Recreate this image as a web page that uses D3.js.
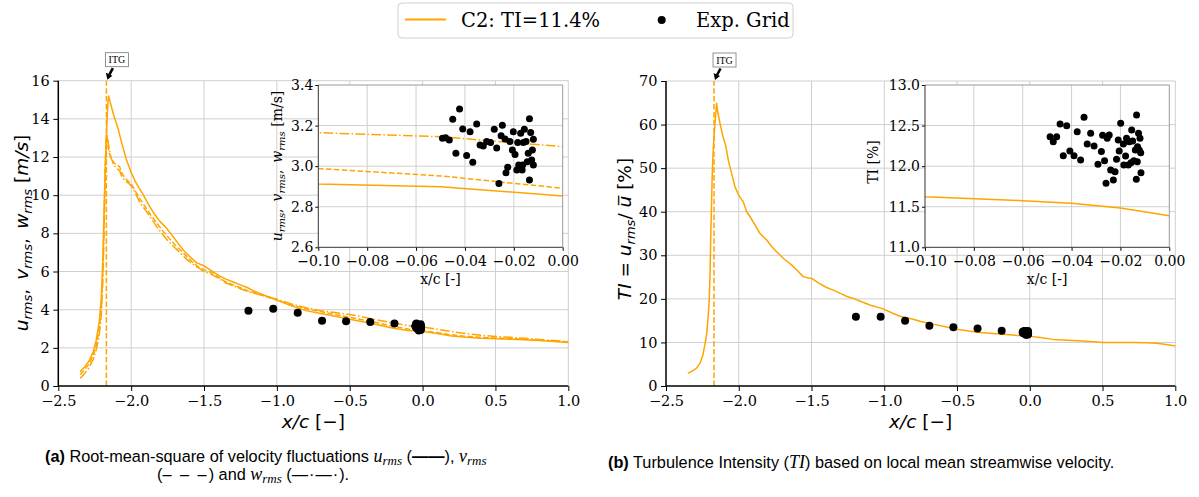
<!DOCTYPE html>
<html>
<head>
<meta charset="utf-8">
<script src="https://cdn.jsdelivr.net/npm/d3@7"></script>
<style>
  body { margin: 0; background: #fff; }
  svg { display: block; }
</style>
</head>
<body>
<svg id="chart" width="1199" height="497"></svg>
<script>
// ---- data ----
const xTicksMain = [-2.5, -2.0, -1.5, -1.0, -0.5, 0.0, 0.5, 1.0];
const yTicksRms = [0, 2, 4, 6, 8, 10, 12, 14, 16];
const yTicksTI = [0, 10, 20, 30, 40, 50, 60, 70];
const xTicksInset = [-0.10, -0.08, -0.06, -0.04, -0.02, 0.00];
const yTicksRmsInset = [2.6, 2.8, 3.0, 3.2, 3.4];
const yTicksTIInset = [11.0, 11.5, 12.0, 12.5, 13.0];
const itgX = -2.17; // grid location

// C2 simulation, u_rms (solid)
const uRms = [[-2.35,0.75],[-2.32,1.0],[-2.29,1.3],[-2.26,1.8],[-2.24,2.4],[-2.22,3.3],[-2.205,4.6],[-2.195,6.5],
  [-2.185,9.5],[-2.175,12.0],[-2.168,13.5],[-2.16,14.8],[-2.155,15.2],[-2.145,14.9],[-2.12,14.2],[-2.09,13.5],
  [-2.06,12.6],[-2.03,11.8],[-2.0,11.2],[-1.97,10.7],[-1.94,10.3],[-1.92,10.05],[-1.88,9.5],[-1.84,9.0],[-1.8,8.6],
  [-1.76,8.3],[-1.72,7.9],[-1.68,7.5],[-1.64,7.1],[-1.6,6.8],[-1.55,6.45],[-1.5,6.3],[-1.45,6.05],[-1.4,5.8],
  [-1.35,5.6],[-1.3,5.45],[-1.25,5.3],[-1.2,5.15],[-1.15,4.95],[-1.1,4.8],[-1.05,4.65],[-1.0,4.5],[-0.9,4.2],
  [-0.8,3.95],[-0.7,3.8],[-0.6,3.65],[-0.5,3.5],[-0.4,3.35],[-0.3,3.2],[-0.2,3.03],[-0.1,2.912],[-0.05,2.899],
  [0.0,2.853],[0.1,2.75],[0.2,2.62],[0.3,2.55],[0.4,2.5],[0.5,2.48],[0.6,2.45],[0.7,2.42],[0.8,2.38],[0.9,2.33],[1.0,2.28]];
// v_rms (dashed)
const vRms = [[-2.35,0.6],[-2.32,0.85],[-2.29,1.15],[-2.26,1.6],[-2.24,2.1],[-2.22,2.9],[-2.205,4.0],[-2.195,5.8],
  [-2.185,8.8],[-2.178,11.5],[-2.172,12.9],[-2.166,13.1],[-2.16,12.6],[-2.15,12.2],[-2.14,12.0],[-2.12,11.7],
  [-2.1,11.6],[-2.08,11.5],[-2.06,11.1],[-2.03,10.8],[-2.0,10.6],[-1.97,10.2],[-1.94,9.8],[-1.9,9.35],[-1.86,8.9],
  [-1.82,8.5],[-1.78,8.1],[-1.74,7.75],[-1.7,7.4],[-1.66,7.1],[-1.62,6.8],[-1.58,6.5],[-1.54,6.25],[-1.5,6.1],
  [-1.45,5.95],[-1.4,5.7],[-1.35,5.45],[-1.3,5.3],[-1.25,5.15],[-1.2,5.0],[-1.1,4.75],[-1.0,4.5],[-0.9,4.25],
  [-0.8,4.05],[-0.7,3.9],[-0.6,3.75],[-0.5,3.6],[-0.4,3.45],[-0.3,3.3],[-0.2,3.12],[-0.1,2.988],[-0.05,2.952],
  [0.0,2.891],[0.1,2.8],[0.2,2.68],[0.3,2.6],[0.4,2.55],[0.5,2.52],[0.6,2.48],[0.7,2.45],[0.8,2.4],[0.9,2.35],[1.0,2.3]];
// w_rms (dash-dot)
const wRms = [[-2.35,0.4],[-2.32,0.65],[-2.29,0.95],[-2.26,1.4],[-2.24,1.9],[-2.22,2.6],[-2.205,3.7],[-2.195,5.4],
  [-2.185,8.4],[-2.178,11.2],[-2.172,12.6],[-2.166,13.2],[-2.16,12.9],[-2.15,12.4],[-2.14,12.0],[-2.12,11.6],
  [-2.1,11.4],[-2.08,11.3],[-2.06,10.9],[-2.03,10.7],[-2.0,10.5],[-1.97,10.1],[-1.94,9.6],[-1.9,9.2],[-1.86,8.75],
  [-1.82,8.3],[-1.78,7.9],[-1.74,7.55],[-1.7,7.25],[-1.66,6.95],[-1.62,6.65],[-1.58,6.4],[-1.54,6.2],[-1.5,6.0],
  [-1.45,5.85],[-1.4,5.65],[-1.35,5.4],[-1.3,5.25],[-1.25,5.1],[-1.2,4.95],[-1.1,4.75],[-1.0,4.55],[-0.9,4.3],
  [-0.8,4.1],[-0.7,3.95],[-0.6,3.85],[-0.5,3.75],[-0.4,3.6],[-0.3,3.45],[-0.2,3.3],[-0.1,3.165],[-0.05,3.145],
  [0.0,3.096],[0.1,2.98],[0.2,2.85],[0.3,2.75],[0.4,2.66],[0.5,2.6],[0.6,2.55],[0.7,2.5],[0.8,2.44],[0.9,2.38],[1.0,2.32]];
// turbulence intensity (%)
const tiCurve = [[-2.35,2.9],[-2.32,3.4],[-2.29,4.1],[-2.265,5.3],[-2.245,7.3],[-2.23,10],[-2.22,12.1],[-2.21,16],
  [-2.203,19.7],[-2.197,26],[-2.193,33.5],[-2.187,42],[-2.182,48.8],[-2.176,54],[-2.17,57.2],[-2.163,60.3],
  [-2.157,63],[-2.152,64.9],[-2.145,63],[-2.129,60.3],[-2.11,57.5],[-2.088,54.9],[-2.07,51.5],[-2.049,48.8],
  [-2.026,45.7],[-2.0,43.8],[-1.985,43.0],[-1.969,42.3],[-1.946,40.0],[-1.923,38.9],[-1.889,37.0],[-1.854,35.0],
  [-1.808,33.5],[-1.774,32.0],[-1.74,30.8],[-1.69,29.2],[-1.637,27.8],[-1.595,26.4],[-1.557,25.1],[-1.52,24.8],
  [-1.499,24.7],[-1.45,23.6],[-1.396,22.6],[-1.35,22.0],[-1.305,21.3],[-1.26,20.6],[-1.214,20.1],[-1.16,19.4],
  [-1.099,18.6],[-1.008,17.7],[-0.95,16.8],[-0.893,16.0],[-0.801,15.3],[-0.75,14.8],[-0.664,14.2],[-0.58,13.6],
  [-0.503,13.0],[-0.42,12.6],[-0.343,12.3],[-0.25,12.05],[-0.16,11.8],[-0.1,11.624],[-0.06,11.575],[-0.04,11.542],
  [-0.02,11.485],[0.0,11.39],[0.06,11.2],[0.16,10.7],[0.26,10.5],[0.366,10.3],[0.503,10.0],[0.6,10.0],[0.709,10.0],
  [0.8,9.9],[0.87,9.8],[0.94,9.5],[1.0,9.2]];

// experimental grid: streamwise stations
const expStationX = [-1.195, -1.025, -0.857, -0.69, -0.525, -0.359, -0.193];
const expStationU = [3.95, 4.05, 3.84, 3.42, 3.39, 3.35, 3.27];
const expStationTI = [15.9, 15.9, 15.0, 13.85, 13.5, 13.2, 12.7];
// experimental grid: near-body cluster (inset)
const expNearX = [-0.0492,-0.0479,-0.0464,-0.045,-0.0422,-0.0437,-0.0409,-0.0393,-0.0379,-0.0368,-0.0352,-0.0338,
  -0.0325,-0.0311,-0.0295,-0.028,-0.027,-0.0261,-0.0252,-0.0247,-0.0236,-0.0232,-0.0225,-0.0216,-0.0206,-0.0202,
  -0.0195,-0.0188,-0.0184,-0.018,-0.0172,-0.0166,-0.0161,-0.0157,-0.015,-0.0145,-0.0141,-0.0136,-0.0136,-0.0131,
  -0.0127,-0.0124,-0.012,-0.012,-0.0164,-0.0177];
const expNearU = [3.137,3.14,3.129,3.231,3.282,3.063,3.183,3.053,3.169,3.019,3.208,3.104,3.099,3.121,3.116,3.182,
  3.09,2.914,3.15,3.201,3.134,2.967,2.995,3.121,3.08,3.17,3.058,2.981,3.116,3.006,3.162,2.981,3.116,3.182,3.121,
  3.022,3.063,3.234,2.932,3.166,3.03,3.08,3.132,3.006,3.006,3.003];
const expNearTIX = [-0.0488,-0.0475,-0.0461,-0.0447,-0.0434,-0.042,-0.0407,-0.039,-0.0377,-0.0363,-0.0349,-0.0336,
  -0.0322,-0.0308,-0.0292,-0.0278,-0.0273,-0.0265,-0.0254,-0.0246,-0.024,-0.0259,-0.0229,-0.0222,-0.0216,-0.0209,
  -0.0205,-0.0199,-0.0188,-0.0186,-0.0179,-0.0175,-0.0168,-0.0164,-0.0157,-0.0154,-0.015,-0.0145,-0.0139,-0.0135,
  -0.0134,-0.0131,-0.013,-0.0126,-0.0123,-0.012,-0.0117,-0.0116];
const expNearTI = [12.363,12.302,12.363,12.52,12.129,12.499,12.187,12.129,12.425,12.076,12.602,12.273,12.405,12.248,
  12.023,12.179,12.38,12.068,12.343,12.384,11.953,11.789,11.83,11.932,12.084,12.322,12.187,12.528,12.273,12.014,
  12.125,12.343,12.014,12.302,12.043,12.446,12.31,12.068,12.199,11.838,12.63,12.055,12.24,12.405,12.199,12.343,
  12.166,11.92];

// ---- drawing ----
const svg = d3.select("#chart");
svg.append("rect").attr("width", 1199).attr("height", 497).attr("fill", "#fff");

const ORANGE = "#ffa500";
const GRID = "#cfcfcf";
const SERIF = "'DejaVu Serif', serif";
const SANS = "'DejaVu Sans', sans-serif";
const dashed = "5.5,2.4";
const dashdot = "9.6,2.4,1.5,2.4";

function styleAxis(g, size) {
  g.attr("font-family", null).attr("font-size", null);
  g.selectAll("text").style("font-family", SERIF).style("font-size", size + "px").attr("fill", "#000");
  g.select(".domain").remove();
  g.selectAll(".tick line").attr("stroke", "#000").attr("stroke-width", 1);
}

function drawPanel(cfg) {
  const x = d3.scaleLinear().domain([-2.5, 1.0]).range(cfg.xr);
  const y = d3.scaleLinear().domain(cfg.yd).range(cfg.yr);
  const g = svg.append("g");

  // grid
  g.append("g").selectAll("line").data(xTicksMain.slice(1)).join("line")
    .attr("x1", d => x(d)).attr("x2", d => x(d))
    .attr("y1", cfg.yr[0]).attr("y2", cfg.yr[1])
    .attr("stroke", GRID).attr("stroke-width", 1);
  g.append("g").selectAll("line").data(cfg.yTicks.slice(1)).join("line")
    .attr("x1", cfg.xr[0]).attr("x2", cfg.xr[1])
    .attr("y1", d => y(d)).attr("y2", d => y(d))
    .attr("stroke", GRID).attr("stroke-width", 1);

  // simulation curves
  const line = d3.line().x(d => x(d[0])).y(d => y(d[1]));
  cfg.curves.forEach(c => {
    g.append("path").datum(c.data).attr("d", line)
      .attr("fill", "none").attr("stroke", ORANGE).attr("stroke-width", 1.5)
      .attr("stroke-dasharray", c.dash || null).attr("stroke-linejoin", "round");
  });

  // experiment
  const pts = cfg.stationX.map((v, i) => [v, cfg.stationY[i]])
    .concat(cfg.nearX.map((v, i) => [v, cfg.nearY[i]]));
  g.append("g").selectAll("circle").data(pts).join("circle")
    .attr("cx", d => x(d[0])).attr("cy", d => y(d[1])).attr("r", 4).attr("fill", "#000");

  // ITG marker line
  g.append("line")
    .attr("x1", x(itgX)).attr("x2", x(itgX))
    .attr("y1", cfg.yr[0]).attr("y2", cfg.yr[1])
    .attr("stroke", ORANGE).attr("stroke-width", 1.5).attr("stroke-dasharray", "5.5,2.4");

  // axes
  const xa = g.append("g").attr("transform", `translate(0,${cfg.yr[0]})`)
    .call(d3.axisBottom(x).tickValues(xTicksMain).tickFormat(d3.format(".1f")).tickSize(5).tickPadding(5));
  styleAxis(xa, 14.5);
  const ya = g.append("g").attr("transform", `translate(${cfg.xr[0]},0)`)
    .call(d3.axisLeft(y).tickValues(cfg.yTicks).tickFormat(d3.format("d")).tickSize(5).tickPadding(3.5));
  styleAxis(ya, 14.5);
  g.append("line").attr("x1", cfg.xr[0]).attr("x2", cfg.xr[1]).attr("y1", cfg.yr[0]).attr("y2", cfg.yr[0])
    .attr("stroke", "#000").attr("stroke-width", 1.5);
  g.append("line").attr("x1", cfg.xr[0]).attr("x2", cfg.xr[0]).attr("y1", cfg.yr[0]).attr("y2", cfg.yr[1])
    .attr("stroke", "#000").attr("stroke-width", 1.5);

  // x label
  const xl = g.append("text").attr("x", (cfg.xr[0] + cfg.xr[1]) / 2).attr("y", 428)
    .attr("text-anchor", "middle").attr("font-family", SANS).attr("font-size", 18.5);
  xl.append("tspan").attr("font-style", "italic").text("x/c");
  xl.append("tspan").text(" [\u2212]");

  // y label
  const yl = g.append("text")
    .attr("transform", `translate(${cfg.ylx},${cfg.yly}) rotate(-90)`)
    .attr("text-anchor", "middle").attr("font-family", SANS).attr("font-size", 18.5);
  cfg.ylabel(yl);

  // ITG annotation
  const tipX = x(itgX) + 1, tipY = cfg.yr[1] - 1;
  const ann = g.append("g");
  ann.append("rect").attr("x", tipX - 2).attr("y", tipY - 27).attr("width", 23).attr("height", 14)
    .attr("fill", "#fff").attr("stroke", "#777").attr("stroke-width", 0.8);
  ann.append("text").attr("x", tipX + 9.5).attr("y", tipY - 16.5).attr("text-anchor", "middle")
    .attr("font-family", "'Liberation Serif', serif").attr("font-size", 10).text("ITG");
  ann.append("line").attr("x1", tipX + 5.5).attr("y1", tipY - 11.5).attr("x2", tipX + 2).attr("y2", tipY - 5)
    .attr("stroke", "#000").attr("stroke-width", 2.6);
  ann.append("path")
    .attr("d", `M${tipX},${tipY} L${tipX - 1.5},${tipY - 7} L${tipX + 5},${tipY - 4} Z`)
    .attr("fill", "#000");

  // inset
  const ix = d3.scaleLinear().domain([-0.10, 0.0]).range(cfg.ixr);
  const iy = d3.scaleLinear().domain(cfg.iyd).range(cfg.iyr);
  const ig = svg.append("g");
  ig.append("rect").attr("x", cfg.ixr[0]).attr("y", cfg.iyr[1])
    .attr("width", cfg.ixr[1] - cfg.ixr[0]).attr("height", cfg.iyr[0] - cfg.iyr[1]).attr("fill", "#fff");
  const clipId = "clip" + cfg.id;
  svg.append("clipPath").attr("id", clipId).append("rect")
    .attr("x", cfg.ixr[0]).attr("y", cfg.iyr[1])
    .attr("width", cfg.ixr[1] - cfg.ixr[0]).attr("height", cfg.iyr[0] - cfg.iyr[1]);
  ig.append("g").selectAll("line").data(xTicksInset.slice(1, -1)).join("line")
    .attr("x1", d => ix(d)).attr("x2", d => ix(d)).attr("y1", cfg.iyr[0]).attr("y2", cfg.iyr[1])
    .attr("stroke", GRID).attr("stroke-width", 1);
  ig.append("g").selectAll("line").data(cfg.iyTicks.slice(1, -1)).join("line")
    .attr("x1", cfg.ixr[0]).attr("x2", cfg.ixr[1]).attr("y1", d => iy(d)).attr("y2", d => iy(d))
    .attr("stroke", GRID).attr("stroke-width", 1);
  const iline = d3.line().x(d => ix(d[0])).y(d => iy(d[1]));
  const clipped = ig.append("g").attr("clip-path", `url(#${clipId})`);
  cfg.curves.forEach(c => {
    clipped.append("path").datum(c.data).attr("d", iline)
      .attr("fill", "none").attr("stroke", ORANGE).attr("stroke-width", 1.5)
      .attr("stroke-dasharray", c.dash || null);
  });
  clipped.append("g").selectAll("circle").data(cfg.nearX.map((v, i) => [v, cfg.nearY[i]])).join("circle")
    .attr("cx", d => ix(d[0])).attr("cy", d => iy(d[1])).attr("r", 3.5).attr("fill", "#000");

  const ixa = ig.append("g").attr("transform", `translate(0,${cfg.iyr[0]})`)
    .call(d3.axisBottom(ix).tickValues(xTicksInset).tickFormat(d3.format(".2f")).tickSize(3.5).tickPadding(5.5));
  styleAxis(ixa, 14);
  const iya = ig.append("g").attr("transform", `translate(${cfg.ixr[0]},0)`)
    .call(d3.axisLeft(iy).tickValues(cfg.iyTicks).tickFormat(d3.format(".1f")).tickSize(3).tickPadding(2));
  styleAxis(iya, 14);
  // inset frame
  ig.append("line").attr("x1", cfg.ixr[0]).attr("x2", cfg.ixr[1]).attr("y1", cfg.iyr[1]).attr("y2", cfg.iyr[1])
    .attr("stroke", "#999").attr("stroke-width", 1);
  ig.append("line").attr("x1", cfg.ixr[1]).attr("x2", cfg.ixr[1]).attr("y1", cfg.iyr[0]).attr("y2", cfg.iyr[1])
    .attr("stroke", "#999").attr("stroke-width", 1);
  ig.append("line").attr("x1", cfg.ixr[0]).attr("x2", cfg.ixr[1]).attr("y1", cfg.iyr[0]).attr("y2", cfg.iyr[0])
    .attr("stroke", "#333").attr("stroke-width", 1);
  ig.append("line").attr("x1", cfg.ixr[0]).attr("x2", cfg.ixr[0]).attr("y1", cfg.iyr[0]).attr("y2", cfg.iyr[1])
    .attr("stroke", "#333").attr("stroke-width", 1);

  ig.append("text").attr("x", (cfg.ixr[0] + cfg.ixr[1]) / 2).attr("y", 284).attr("text-anchor", "middle")
    .attr("font-family", SERIF).attr("font-size", 14).text("x/c [-]");
  const iyl = ig.append("text")
    .attr("transform", `translate(${cfg.iylx},${cfg.iylY}) rotate(-90)`)
    .attr("text-anchor", "middle").attr("font-family", SERIF).attr("font-size", 14);
  cfg.iylabel(iyl);
}

function rmsLabel(t, size, sub, sep) {
  ["u", "v", "w"].forEach((c, i) => {
    t.append("tspan").attr("font-style", "italic").text(c);
    t.append("tspan").attr("font-style", "italic").attr("font-size", sub).attr("dy", size * 0.22).text("rms");
    t.append("tspan").attr("dy", -size * 0.22).text(i < 2 ? sep : " ");
  });
}

drawPanel({
  id: "a", xr: [58.3, 568.3], yr: [386, 80.7], yd: [0, 16], yTicks: yTicksRms,
  curves: [{ data: uRms }, { data: vRms, dash: dashed }, { data: wRms, dash: dashdot }],
  stationX: expStationX, stationY: expStationU, nearX: expNearX, nearY: expNearU,
  ylx: 28, yly: 233,
  ylabel: t => {
    rmsLabel(t, 18.5, 13, ",\u2002");
    t.append("tspan").text("[");
    t.append("tspan").attr("font-style", "italic").text("m/s");
    t.append("tspan").text("]");
  },
  ixr: [318.3, 562.7], iyr: [247.3, 85], iyd: [2.6, 3.4], iyTicks: yTicksRmsInset,
  iylx: 282, iylY: 166,
  iylabel: t => {
    rmsLabel(t, 14, 10, ",\u2002");
    t.append("tspan").text("[m/s]");
  }
});

drawPanel({
  id: "b", xr: [666, 1175.3], yr: [386, 81], yd: [0, 70], yTicks: yTicksTI,
  curves: [{ data: tiCurve }],
  stationX: expStationX, stationY: expStationTI, nearX: expNearTIX, nearY: expNearTI,
  ylx: 631, yly: 229,
  ylabel: t => {
    t.append("tspan").attr("font-style", "italic").text("TI");
    t.append("tspan").text(" = ");
    t.append("tspan").attr("font-style", "italic").text("u");
    t.append("tspan").attr("font-style", "italic").attr("font-size", 13).attr("dy", 4).text("rms");
    t.append("tspan").attr("dy", -4).text("/ ");
    t.append("tspan").attr("font-style", "italic").text("u\u0305");
    t.append("tspan").text(" [%]");
  },
  ixr: [925, 1169.3], iyr: [247.3, 85], iyd: [11.0, 13.0], iyTicks: yTicksTIInset,
  iylx: 878, iylY: 162,
  iylabel: t => t.text("TI [%]")
});

// legend
const lg = svg.append("g");
lg.append("rect").attr("x", 398).attr("y", 3).attr("width", 395).attr("height", 35).attr("rx", 4)
  .attr("fill", "#fff").attr("stroke", "#d0d0d0").attr("stroke-width", 1);
lg.append("line").attr("x1", 405).attr("x2", 446).attr("y1", 19.5).attr("y2", 19.5)
  .attr("stroke", ORANGE).attr("stroke-width", 1.8);
lg.append("text").attr("x", 461).attr("y", 27).attr("font-family", SERIF).attr("font-size", 19.5).text("C2: TI=11.4%");
lg.append("circle").attr("cx", 661.7).attr("cy", 20).attr("r", 4).attr("fill", "#000");
lg.append("text").attr("x", 696).attr("y", 27).attr("font-family", SERIF).attr("font-size", 19.5).text("Exp. Grid");

// captions
const CAP = "'Liberation Sans', Arial, sans-serif";
const MATH = "'Liberation Serif', serif";
function mathVar(t, v) {
  t.append("tspan").attr("font-family", MATH).attr("font-style", "italic").attr("font-size", 18).text(v);
  t.append("tspan").attr("font-family", MATH).attr("font-style", "italic").attr("font-size", 13).attr("dy", 3).text("rms");
}
const c1 = svg.append("text").attr("x", 45).attr("y", 462).attr("font-family", CAP).attr("font-size", 16.3);
c1.append("tspan").attr("font-weight", "bold").text("(a)");
c1.append("tspan").text(" Root-mean-square of velocity fluctuations ");
mathVar(c1, "u");
c1.append("tspan").attr("dy", -3).text(" (");
c1.append("tspan").attr("font-weight", "bold").text("\u2014\u2014");
c1.append("tspan").text("), ");
mathVar(c1, "v");
const c2 = svg.append("text").attr("x", 157).attr("y", 480).attr("font-family", CAP).attr("font-size", 16.3);
c2.append("tspan").text("(");
c2.append("tspan").attr("letter-spacing", 2).text("\u2013 \u2013 \u2013");
c2.append("tspan").text(") and ");
mathVar(c2, "w");
c2.append("tspan").attr("dy", -3).text(" (");
c2.append("tspan").attr("letter-spacing", 1).text("\u2014\u00b7\u2014\u00b7");
c2.append("tspan").text(").");

const c3 = svg.append("text").attr("x", 608).attr("y", 468).attr("font-family", CAP).attr("font-size", 16.3);
c3.append("tspan").attr("font-weight", "bold").text("(b)");
c3.append("tspan").text(" Turbulence Intensity (");
c3.append("tspan").attr("font-family", MATH).attr("font-style", "italic").attr("font-size", 18).text("TI");
c3.append("tspan").text(") based on local mean streamwise velocity.");
</script>
</body>
</html>
